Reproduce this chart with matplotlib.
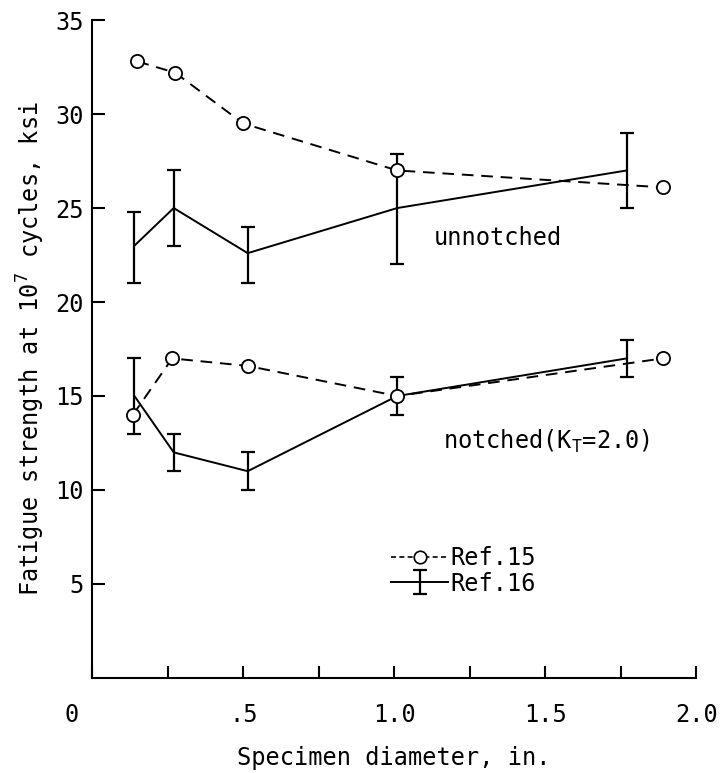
import matplotlib
matplotlib.use("Agg")
from matplotlib import pyplot as plt
from matplotlib.lines import Line2D
import matplotlib.transforms as mtransforms
import numpy as np

plt.rcParams["font.family"] = ["DejaVu Sans Mono"]
plt.rcParams["mathtext.fontset"] = "custom"
plt.rcParams["mathtext.rm"] = "DejaVu Sans Mono"
plt.rcParams["mathtext.it"] = "DejaVu Sans Mono"

# Ref. 15 (open circles, dashed)
d15 = [0.15, 0.275, 0.50, 1.01, 1.89]
unnotched15 = [32.8, 32.2, 29.5, 27.0, 26.1]
d15n = [0.135, 0.265, 0.515, 1.01, 1.89]
notched15 = [14.0, 17.0, 16.6, 15.0, 17.0]

# Ref. 16 (mean with scatter band)
d16 = [0.14, 0.27, 0.515, 1.01, 1.77]
unnotched16 = [23.0, 25.0, 22.6, 25.0, 27.0]
unnotched16_lo = [21.0, 23.0, 21.0, 22.0, 25.0]
unnotched16_hi = [24.8, 27.0, 24.0, 27.9, 29.0]
notched16 = [15.0, 12.0, 11.0, 15.0, 17.0]
notched16_lo = [13.0, 11.0, 10.0, 14.0, 16.0]
notched16_hi = [17.0, 13.0, 12.0, 16.0, 18.0]

xticks = [0, 0.25, 0.5, 0.75, 1.0, 1.25, 1.5, 1.75, 2.0]
xticklabels = ["0", "", ".5", "", "1.0", "", "1.5", "", "2.0"]
yticks = [5, 10, 15, 20, 25, 30, 35]

fs = 17

fig = plt.figure(figsize=(7.2, 7.73), dpi=100)
ax = fig.add_axes([0.128, 0.123, 0.839, 0.851])

dash = dict(color="black", lw=1.4, dashes=(6, 4))
circ = dict(ls="none", marker="o", ms=9.5, mfc="white", mec="black", mew=1.3, zorder=4)

for d, v in [(d15, unnotched15), (d15n, notched15)]:
    ax.plot(d, v, **dash)
    ax.plot(d, v, **circ)

bars = []
for v, lo, hi in [(unnotched16, unnotched16_lo, unnotched16_hi),
                  (notched16, notched16_lo, notched16_hi)]:
    v = np.array(v)
    err = [v - np.array(lo), np.array(hi) - v]
    bars.append(ax.errorbar(d16, v, yerr=err, color="black", lw=1.4, elinewidth=1.6,
                            capsize=5, capthick=1.6, zorder=3))

ax.text(1.13, 23.4, "unnotched", fontsize=fs, va="center", ha="left")
ax.text(1.16, 12.6, r"notched(K$_\mathrm{T}$=2.0)", fontsize=fs, va="center", ha="left")

h15 = Line2D([], [], color="black", lw=1.2, dashes=(3, 2), marker="o", ms=9,
             mfc="white", mec="black", mew=1.2)
ax.legend([h15, bars[1]], ["Ref.15", "Ref.16"], loc="upper left",
          bbox_to_anchor=(0.495, 0.2), frameon=False, fontsize=fs,
          handlelength=2.4, handletextpad=0.1, labelspacing=0.05,
          borderpad=0, borderaxespad=0)

ax.set_xlim(0, 2.0)
ax.set_ylim(0, 35)
ax.set_xticks(xticks)
ax.set_xticklabels(xticklabels)
ax.set_yticks(yticks)
ax.set_yticklabels([str(t) for t in yticks])
ax.tick_params(direction="in", length=9, width=1.5, labelsize=fs)
ax.tick_params(axis="x", pad=18)
ax.tick_params(axis="y", pad=6)

# shift the origin label to the left of the corner
lbl0 = ax.get_xticklabels()[0]
lbl0.set_transform(lbl0.get_transform() + mtransforms.ScaledTranslation(-0.21, 0, fig.dpi_scale_trans))

for s in ["top", "right"]:
    ax.spines[s].set_visible(False)
for s in ["left", "bottom"]:
    ax.spines[s].set_linewidth(1.5)

ax.set_xlabel("Specimen diameter, in.", fontsize=fs, labelpad=14)
ax.set_ylabel(r"Fatigue strength at 10$^7$ cycles, ksi", fontsize=fs, labelpad=6)

plt.savefig("out.png", dpi=100)
